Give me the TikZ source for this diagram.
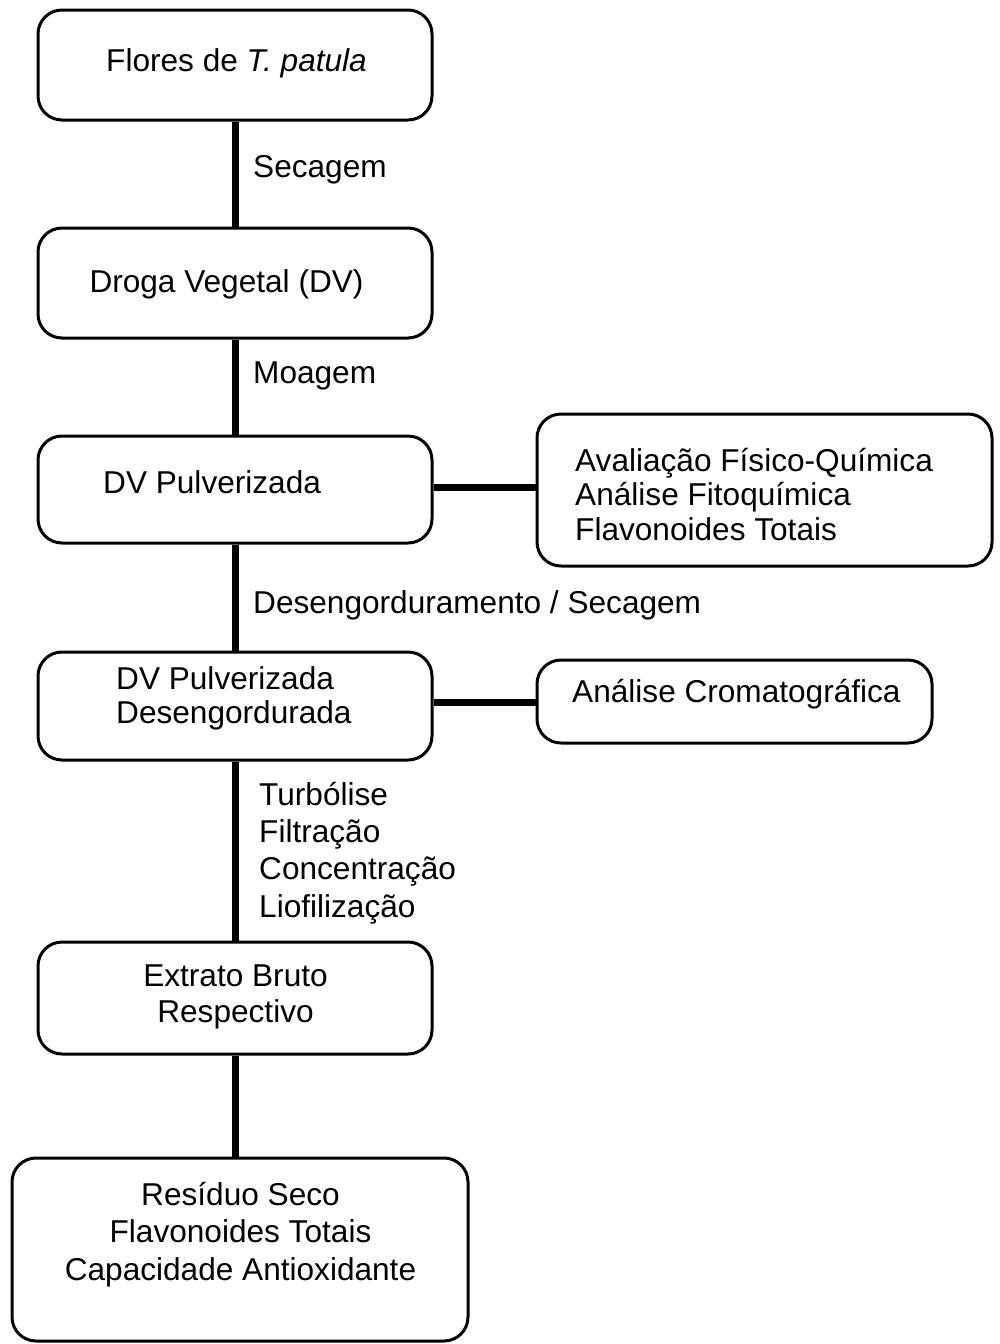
\documentclass[tikz,border=0pt]{standalone}
\usepackage{fontspec}
\setmainfont{Liberation Sans}
\begin{document}
\begin{tikzpicture}[x=1pt,y=-1pt,
  box/.style={draw=black,line width=3pt,rounded corners=24pt,inner sep=0pt,fill=white},
  link/.style={draw=black,line width=7pt},
  txt/.style={inner sep=0pt,font=\fontsize{31.6}{37.3}\selectfont},
]
\useasboundingbox (0,0) rectangle (1000,1344);
\fill[white] (0,0) rectangle (1000,1344);
% boxes
\node[box,minimum width=394pt,minimum height=110pt] (b1) at (235,65) {};
\node[box,minimum width=394pt,minimum height=110pt] (b2) at (235,283) {};
\node[box,minimum width=394pt,minimum height=107pt] (b3) at (235,489.5) {};
\node[box,minimum width=455pt,minimum height=152pt] (b4) at (764.5,490) {};
\node[box,minimum width=394pt,minimum height=108pt] (b5) at (235,706) {};
\node[box,minimum width=395pt,minimum height=83pt] (b6) at (734.5,701.5) {};
\node[box,minimum width=394pt,minimum height=112pt] (b7) at (235,998) {};
\node[box,minimum width=456pt,minimum height=183pt] (b8) at (240,1249.5) {};
% connectors
\draw[link] (b1.south) -- (b2.north);
\draw[link] (b2.south) -- (b3.north);
\draw[link] (b3.south) -- (b5.north);
\draw[link] (b5.south) -- (b7.north);
\draw[link] (b7.south) -- (b7.south |- b8.north);
\draw[link] (b3.east |- 0,487) -- (b4.west |- 0,487);
\draw[link] (b5.east |- 0,702) -- (b6.west |- 0,702);
% texts
\node[txt,anchor=base] (t1) at (236.5,71) {Flores de \textit{T. patula}};
\node[txt,anchor=base west] (l1) at (253,177) {Secagem};
\node[txt,anchor=base] (t2) at (226.5,292) {Droga Vegetal (DV)};
\node[txt,anchor=base west] (l2) at (253,383) {Moagem};
\node[txt,anchor=base west] (t3) at (103,493) {DV Pulverizada};
\node[txt,anchor=base west,align=left,font=\fontsize{31.6}{34.3}\selectfont] (t4) at (575,540) {Avaliação Físico-Química\\Análise Fitoquímica\\Flavonoides Totais};
\node[txt,anchor=base west] (l3) at (253,613) {Desengorduramento / Secagem};
\node[txt,anchor=base west,align=left,font=\fontsize{31.6}{33.5}\selectfont] (t5) at (116,723) {DV Pulverizada\\Desengordurada};
\node[txt,anchor=base west] (t6) at (572,702) {Análise Cromatográfica};
\node[txt,anchor=base west,align=left] (l4) at (259,917) {Turbólise\\Filtração\\Concentração\\Liofilização};
\node[txt,anchor=base,align=center,font=\fontsize{31.6}{35.7}\selectfont] (t7) at (235.5,1022) {Extrato Bruto\\Respectivo};
\node[txt,anchor=base,align=center,font=\fontsize{31.6}{37.5}\selectfont] (t8) at (240.5,1280) {Resíduo Seco\\Flavonoides Totais\\Capacidade Antioxidante};
\end{tikzpicture}
\end{document}
